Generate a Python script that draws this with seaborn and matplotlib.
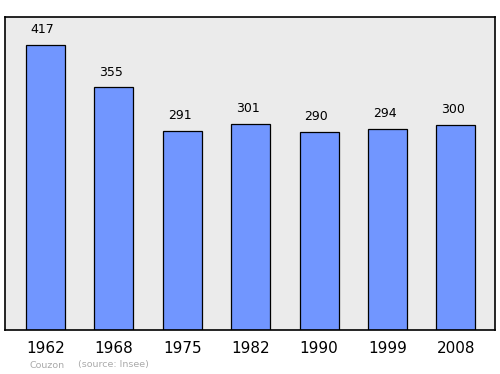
import matplotlib
matplotlib.use("Agg")
import matplotlib.pyplot as plt
import seaborn as sns
import pandas as pd

years = ["1962", "1968", "1975", "1982", "1990", "1999", "2008"]
population = [417, 355, 291, 301, 290, 294, 300]

df = pd.DataFrame({"year": years, "pop": population})

sns.set_style("white")
plt.rcParams['font.family'] = ['DejaVu Sans']

fig = plt.figure(figsize=(5, 3.74), dpi=100)
ax = fig.add_axes([5/500, 1 - 330/374, 490/500, 313/374])
ax.set_facecolor("#ebebeb")

sns.barplot(data=df, x="year", y="pop", ax=ax, color="#7196ff",
            saturation=1, width=0.57, edgecolor="black", linewidth=0.9)

for i, v in enumerate(population):
    ax.text(i - 0.04, v + 13, str(v), ha="center", va="bottom", fontsize=9, color="black")

ax.set_xlim(-0.59, 6.57)
ax.set_ylim(0, 458)
ax.set_yticks([])
ax.set_xlabel("")
ax.set_ylabel("")
ax.tick_params(axis="x", length=0, labelsize=11, pad=8, labelcolor="black")
for s in ax.spines.values():
    s.set_color("black")
    s.set_linewidth(1.2)

fig.text(30/500, 1 - 365/374, "Couzon", fontsize=6.8, color="#aaaaaa", va="center")
fig.text(78/500, 1 - 365/374, "(source: Insee)", fontsize=6.8, color="#aaaaaa", va="center")

fig.savefig("out.png", dpi=100)
